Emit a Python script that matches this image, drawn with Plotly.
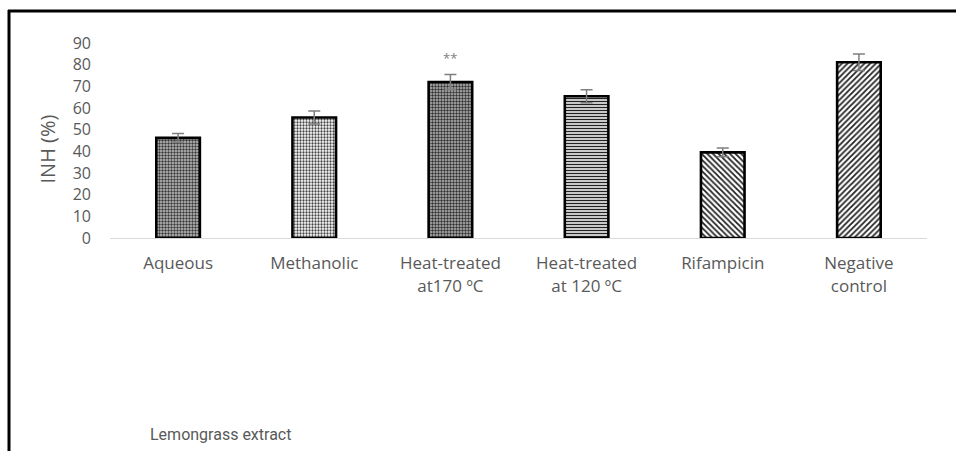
import plotly.graph_objects as go

categories = ["Aqueous", "Methanolic", "Heat-treated<br>at170 ºC", "Heat-treated<br>at 120 ºC",
              "Rifampicin", "Negative<br>control"]
inh_values = [46.2, 55.6, 72.0, 65.4, 39.5, 81.1]
inh_errors = [2.0, 3.0, 3.5, 3.0, 2.0, 3.8]
significance = ["", "", "**", "", "", ""]
y_ticks = [0, 10, 20, 30, 40, 50, 60, 70, 80, 90]

pattern_shapes = [".", ".", ".", "-", "\\", "/"]
pattern_sizes = [3, 3, 3, 3, 4, 4]
pattern_solidity = [0.5, 0.45, 0.5, 0.5, 0.45, 0.45]
pattern_bg = ["#c4c4c4", "#ffffff", "#b8b8b8", "#ffffff", "#ffffff", "#ffffff"]
pattern_fg = ["#3a3a3a", "#444444", "#303030", "#222222", "#222222", "#222222"]

W, H = 956, 451
ML, MR, MT, MB = 110, 29, 43, 213
pw, ph = W - ML - MR, H - MT - MB
FONT = "Open Sans"

fig = go.Figure()
fig.add_trace(go.Bar(
    x=categories, y=inh_values, width=0.32,
    marker=dict(color="white", line=dict(color="black", width=2.6),
                pattern=dict(shape=pattern_shapes, size=pattern_sizes, solidity=pattern_solidity,
                             fgcolor=pattern_fg, bgcolor=pattern_bg, fillmode="replace")),
    error_y=dict(type="data", array=inh_errors, visible=True, color="#7f7f7f", thickness=1.5, width=6),
    showlegend=False,
))

annotations = []
for c, v, e, s in zip(categories, inh_values, inh_errors, significance):
    if s:
        annotations.append(dict(x=c, y=v + e, text=s, showarrow=False, yanchor="bottom", yshift=5,
                                font=dict(family=FONT, size=13, color="#7f7f7f")))

annotations.append(dict(xref="paper", yref="paper", x=(31 - ML) / pw, y=(H - MB - 149) / ph,
                        text="INH (%)", textangle=-90, showarrow=False,
                        font=dict(family=FONT, size=20, color="#595959")))
annotations.append(dict(xref="paper", yref="paper", x=(148 - ML) / pw, y=(H - MB - 446) / ph,
                        text="Lemongrass extract", showarrow=False,
                        font=dict(family="Roboto", size=16, color="#595959")))

shapes = [
    dict(type="line", xref="paper", yref="paper", x0=(8 - ML) / pw, x1=(W - ML) / pw,
         y0=(H - MB - 11) / ph, y1=(H - MB - 11) / ph, line=dict(color="black", width=3)),
    dict(type="line", xref="paper", yref="paper", x0=(9 - ML) / pw, x1=(9 - ML) / pw,
         y0=(H - MB - 10) / ph, y1=(H - MB - H - 2) / ph, line=dict(color="black", width=3)),
]

fig.update_layout(
    width=W, height=H, margin=dict(l=ML, r=MR, t=MT, b=MB),
    paper_bgcolor="white", plot_bgcolor="white",
    font=dict(family=FONT, size=16, color="#595959"),
    annotations=annotations, shapes=shapes,
    xaxis=dict(showline=True, linecolor="#d9d9d9", linewidth=1, showgrid=False, ticks="",
               ticklabelstandoff=10, tickfont=dict(size=17, color="#595959")),
    yaxis=dict(range=[0, 90], tickvals=y_ticks, showgrid=False, zeroline=False, showline=False,
               ticks="", ticklabelstandoff=18, tickfont=dict(size=16, color="#595959")),
)

fig.write_html("out.html", config={"displayModeBar": False},
               post_script="document.body.style.margin='0';")
